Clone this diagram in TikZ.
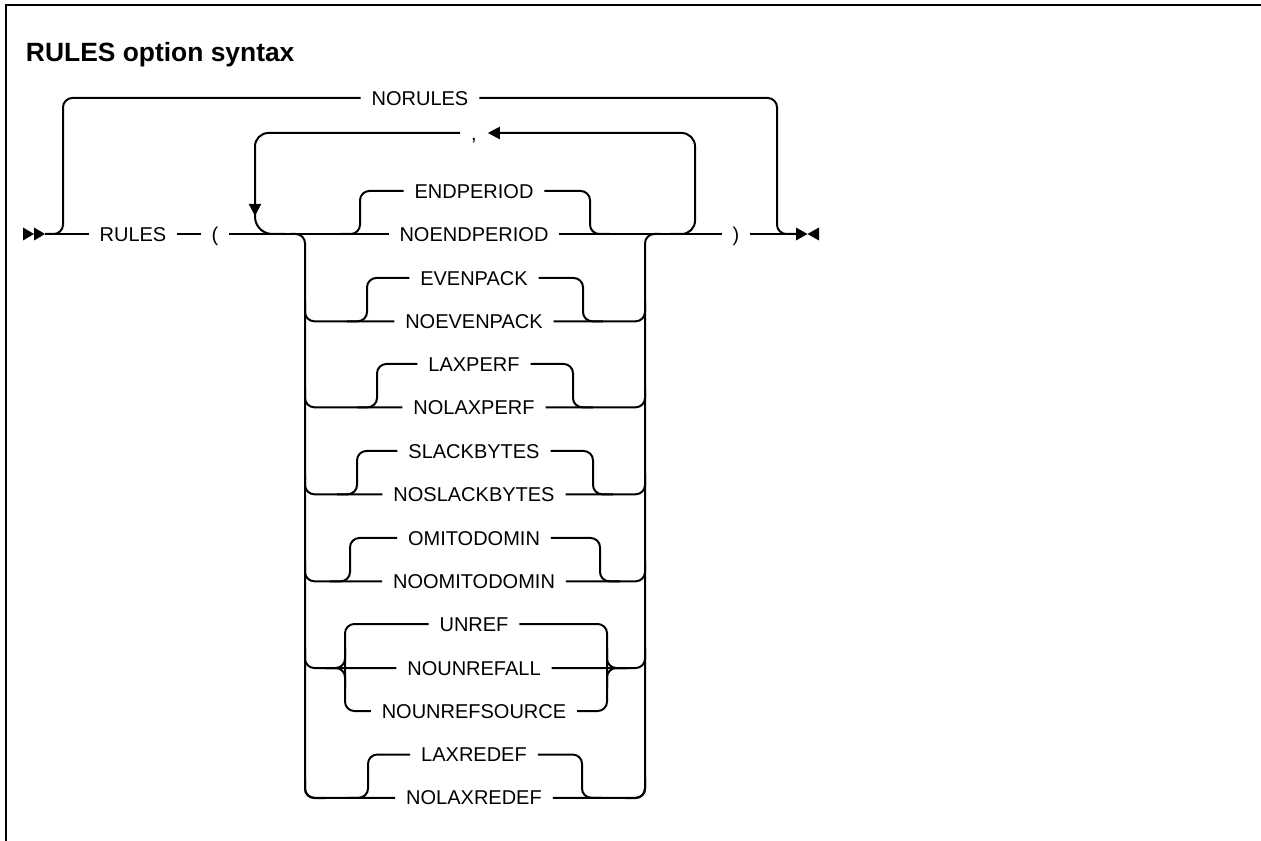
\documentclass[tikz,border=0pt]{standalone}
\usepackage{fontspec}
\setmainfont{Liberation Sans}
\usetikzlibrary{arrows.meta}

\tikzset{
    item/.style={font=\fontsize{15}{16}\selectfont, inner xsep=7.5pt, inner ysep=0pt, text height=10.7pt, text depth=0pt},
    rail/.style={rounded corners=7pt},
    loop/.style={rounded corners=10pt}
}

\begin{document}
\begin{tikzpicture}[x=0.75pt, y=-0.75pt, line width=1.5pt, >={Triangle[length=9pt, width=9pt]}]
        \useasboundingbox (0,0) rectangle (1261,841);
        % Frame and title
        \draw[line width=2pt] (6,841) -- (6,5) -- (1261,5);
        \node[anchor=base west, inner sep=0pt, font=\bfseries\fontsize{19.8}{22}\selectfont] (title) at (25,61.5) {RULES option syntax};

        % Start and end marks
        \fill (23,227.5) -- (34,234) -- (23,240.5) -- cycle;
        \fill (34,227.5) -- (45,234) -- (34,240.5) -- cycle;
        \fill (796,227.5) -- (807.5,234) -- (796,240.5) -- cycle;
        \fill (819,227.5) -- (807.5,234) -- (819,240.5) -- cycle;
        \coordinate (start) at (45,234);
        \coordinate (stop) at (797,234);

        % Main line
        \node[item] (rules) at (133,234) {RULES};
        \node[item] (lpar) at (215,234) {(};
        \node[item] (rpar) at (736,234) {)};
        \node[item] (endperiod) at (474,191) {ENDPERIOD};
        \node[item] (noendperiod) at (474,234) {NOENDPERIOD};
        \draw (start) -- (rules.west);
        \draw (rules.east) -- (lpar.west);
        \draw (lpar.east) -- (noendperiod.west);
        \draw (noendperiod.east) -- (rpar.west);
        \draw (rpar.east) -- (stop);

        % NORULES bypass
        \node[item] (norules) at (420,98) {NORULES};
        \draw[rail] (start) -- (63,234) -- (63,98) -- (norules.west);
        \draw[rail] (norules.east) -- (777,98) -- (777,234) -- (stop);

        % Repeat loop with comma
        \node[item] (comma) at (474,133) {,};
        \draw[loop, ->] (670,234) -- (695,234) -- (695,133) -- (comma.east);
        \draw[loop, ->] (comma.west) -- (255,133) -- (255,216);
        \draw[rounded corners=13pt] (255,208) -- (255,234) -- (285,234);

        % ENDPERIOD choice
        \draw[rail] (340,234) -- (360,234) -- (360,191) -- (endperiod.west);
        \draw[rail] (endperiod.east) -- (590,191) -- (590,234) -- (610,234);

        % Side rails of the stack
        \draw[rail] (290,234) -- (305,234) -- (305,798) -- (325,798);
        \draw[rail] (625,798) -- (645,798) -- (645,234) -- (660,234);

        % Two-way choices
        \foreach \optA/\optB/\yt/\xl/\xr in {EVENPACK/NOEVENPACK/278/367/583,
                LAXPERF/NOLAXPERF/364/377/573, SLACKBYTES/NOSLACKBYTES/451/357/593,
                OMITODOMIN/NOOMITODOMIN/538/350/600, LAXREDEF/NOLAXREDEF/754.5/368/582} {
            \pgfmathsetmacro\yb{\yt+43.3}
            \node[item] (\optA) at (474,\yt) {\optA};
            \node[item] (\optB) at (474,\yb) {\optB};
            \draw[rail] (305,\yb-20) -- (305,\yb) -- (\optB.west);
            \draw[rail] (\optB.east) -- (645,\yb) -- (645,\yb-20);
            \draw[rail] (\xl-20,\yb) -- (\xl,\yb) -- (\xl,\yt) -- (\optA.west);
            \draw[rail] (\optA.east) -- (\xr,\yt) -- (\xr,\yb) -- (\xr+20,\yb);
        }

        % Three-way choice
        \node[item] (unref) at (474,624) {UNREF};
        \node[item] (nounrefall) at (474,668) {NOUNREFALL};
        \node[item] (nounrefsource) at (474,711) {NOUNREFSOURCE};
        \draw[rail] (305,648) -- (305,668) -- (nounrefall.west);
        \draw[rail] (nounrefall.east) -- (645,668) -- (645,648);
        \draw[rail] (unref.west) -- (345,624) -- (345,711) -- (nounrefsource.west);
        \draw[rail] (unref.east) -- (607,624) -- (607,711) -- (nounrefsource.east);
        \draw[rail] (325,668) -- (345,668) -- (345,648);
        \draw[rail] (325,668) -- (345,668) -- (345,688);
        \draw[rail] (627,668) -- (607,668) -- (607,648);
        \draw[rail] (627,668) -- (607,668) -- (607,688);
    \end{tikzpicture}
\end{document}
